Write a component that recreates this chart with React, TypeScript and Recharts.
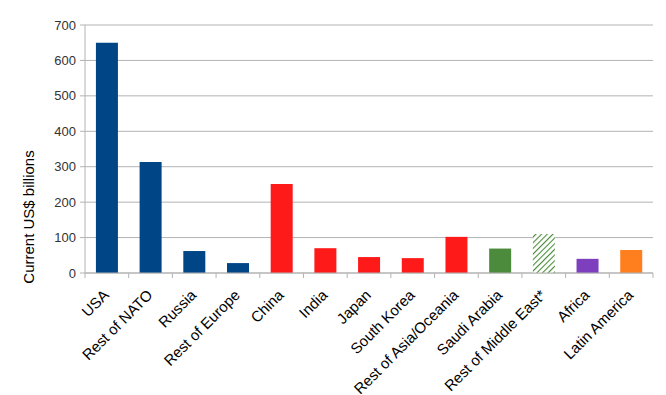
import React from 'react';
import { BarChart, Bar, XAxis, YAxis, CartesianGrid, Cell, Label } from 'recharts';

const categories = ['USA', 'Rest of NATO', 'Russia', 'Rest of Europe', 'China', 'India', 'Japan', 'South Korea', 'Rest of Asia/Oceania', 'Saudi Arabia', 'Rest of Middle East*', 'Africa', 'Latin America'];
const values = [650, 313, 62, 28, 251, 70, 45, 42, 102, 69, 110, 40, 65];
const colors = ['#004586', '#004586', '#004586', '#004586', '#ff1a1a', '#ff1a1a', '#ff1a1a', '#ff1a1a', '#ff1a1a', '#4b8b3b', 'url(#hatch)', '#7e3fbf', '#ff7f1f'];
const yTicks = [0, 100, 200, 300, 400, 500, 600, 700];

const data = categories.map((c, i) => ({ name: c, value: values[i] }));

const W = 666;
const H = 395;
const LEFT = 85;
const RIGHT = 13;
const BAND = (W - LEFT - RIGHT) / categories.length;
const FONT = 'Liberation Sans, Arial, sans-serif';

const XTick = (props: any) => {
  const { x, y, payload, index } = props;
  const axisY = y - 8;
  const ax = x + 3;
  const ay = axisY + 23;
  return (
    <g>
      <line x1={x - BAND / 2} x2={x - BAND / 2} y1={axisY} y2={axisY + 5} stroke="#b3b3b3" />
      {index === categories.length - 1 && (
        <line x1={x + BAND / 2} x2={x + BAND / 2} y1={axisY} y2={axisY + 5} stroke="#b3b3b3" />
      )}
      <text
        x={ax}
        y={ay}
        textAnchor="end"
        fontSize={15}
        fill="#000"
        fontFamily={FONT}
        transform={`rotate(-45, ${ax}, ${ay})`}
      >
        {payload.value}
      </text>
    </g>
  );
};

const YLabel = () => (
  <text
    x={34}
    y={217}
    textAnchor="middle"
    fontSize={15}
    fill="#000"
    fontFamily={FONT}
    transform="rotate(-90, 34, 217)"
  >
    Current US$ billions
  </text>
);

export default function App() {
  return (
    <div style={{ position: 'absolute', left: 0, top: 0, background: '#fff' }}>
      <BarChart
        width={W}
        height={H}
        data={data}
        margin={{ top: 25, right: RIGHT, bottom: 0, left: 0 }}
        barCategoryGap="25%"
      >
        <defs>
          <pattern id="hatch" patternUnits="userSpaceOnUse" width="4" height="4" patternTransform="rotate(45)">
            <rect width="4" height="4" fill="#fff" />
            <line x1="0" y1="0" x2="0" y2="4" stroke="#4b8b3b" strokeWidth="2.2" />
          </pattern>
        </defs>
        <CartesianGrid vertical={false} stroke="#b3b3b3" />
        <XAxis
          dataKey="name"
          interval={0}
          height={122}
          axisLine={{ stroke: '#b3b3b3' }}
          tickLine={false}
          tick={<XTick />}
        />
        <YAxis
          width={LEFT}
          domain={[0, 700]}
          ticks={yTicks}
          axisLine={{ stroke: '#b3b3b3' }}
          tickLine={{ stroke: '#b3b3b3' }}
          tickSize={5}
          tickMargin={4}
          tick={{ fontSize: 13, fill: '#333', fontFamily: FONT }}
        >
          <Label content={<YLabel />} />
        </YAxis>
        <Bar dataKey="value" isAnimationActive={false}>
          {data.map((d, i) => (
            <Cell key={d.name} fill={colors[i]} />
          ))}
        </Bar>
      </BarChart>
    </div>
  );
}
